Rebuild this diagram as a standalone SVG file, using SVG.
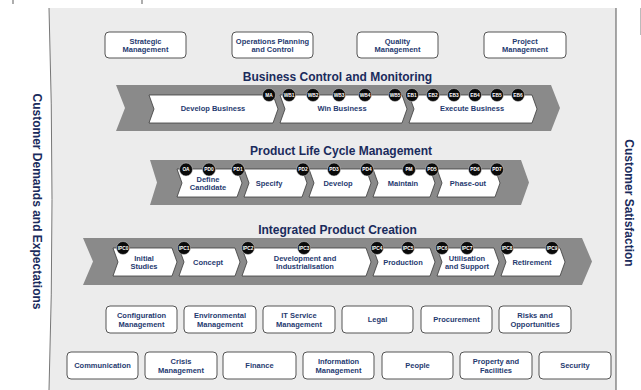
<svg xmlns="http://www.w3.org/2000/svg" width="641" height="390" viewBox="0 0 641 390">
  <style>
    text { font-family: "Liberation Sans", Arial, sans-serif; font-weight: bold; }
    .box { fill: #ffffff; stroke: #555555; stroke-width: 1; }
    .lbl { font-size: 7.5px; fill: #1f3a70; text-anchor: middle; }
    .title { font-size: 12px; fill: #1a2b5c; text-anchor: middle; }
    .side { font-size: 12px; fill: #1a2b5c; text-anchor: middle; }
    .band { fill: #8a8a8a; }
    .chev { fill: #ffffff; stroke: #3a3a3a; stroke-width: 0.8; }
    .gate circle { fill: #0a0a0a; stroke: #d0d0d0; stroke-width: 0.5; }
    .gate text { font-size: 4.8px; fill: #ffffff; text-anchor: middle; }
  </style>

  <!-- background panel -->
  <path d="M49,8 L616,8 L616,390 L49,390 Q55,200 49,8 Z" fill="#ececec"/>
  <path d="M49,8 Q55,200 49,390" fill="none" stroke="#777777" stroke-width="1"/>
  <line x1="616" y1="8" x2="616" y2="390" stroke="#555555" stroke-width="1"/>
  <line x1="13" y1="0" x2="13" y2="4" stroke="#777777" stroke-width="1.2"/>
  <line x1="142" y1="0" x2="142" y2="4" stroke="#777777" stroke-width="1.2"/>
  <line x1="640.5" y1="8" x2="640.5" y2="35" stroke="#bbbbbb" stroke-width="1"/>

  <!-- side labels -->
  <text class="side" transform="translate(33,201.5) rotate(90)">Customer Demands and Expectations</text>
  <text class="side" transform="translate(625,203) rotate(90)">Customer Satisfaction</text>

  <!-- top support processes -->
  <g id="strategic-management"><rect class="box" x="105" y="32" width="81" height="26" rx="4"/><text class="lbl" x="145.5" y="43.5">Strategic</text><text class="lbl" x="145.5" y="52">Management</text></g>
  <g id="operations-planning"><rect class="box" x="232" y="32" width="81" height="26" rx="4"/><text class="lbl" x="272.5" y="43.5">Operations Planning</text><text class="lbl" x="272.5" y="52">and Control</text></g>
  <g id="quality-management"><rect class="box" x="357" y="32" width="81" height="26" rx="4"/><text class="lbl" x="397.5" y="43.5">Quality</text><text class="lbl" x="397.5" y="52">Management</text></g>
  <g id="project-management"><rect class="box" x="484" y="32" width="82" height="26" rx="4"/><text class="lbl" x="525" y="43.5">Project</text><text class="lbl" x="525" y="52">Management</text></g>

  <!-- Business Control and Monitoring -->
  <g id="business-control">
    <text class="title" x="337.5" y="81">Business Control and Monitoring</text>
    <path class="band" d="M116,85 L551,85 L560,108 L551,131 L116,131 L125,108 Z"/>
    <g id="develop-business"><path class="chev" d="M149,95 L273,95 L278,109 L273,123 L149,123 L154,109 Z"/><text class="lbl" x="213" y="111">Develop Business</text></g>
    <g id="win-business"><path class="chev" d="M280,95 L402,95 L407,109 L402,123 L280,123 L285,109 Z"/><text class="lbl" x="342" y="111">Win Business</text></g>
    <g id="execute-business"><path class="chev" d="M409,95 L532,95 L537,109 L532,123 L409,123 L414,109 Z"/><text class="lbl" x="472" y="111">Execute Business</text></g>
    <g class="gate">
      <circle cx="269" cy="95" r="6.5"/><text x="269" y="96.7">MA</text>
      <circle cx="289" cy="95" r="6.5"/><text x="289" y="96.7">WB1</text>
      <circle cx="313" cy="95" r="6.5"/><text x="313" y="96.7">WB2</text>
      <circle cx="339" cy="95" r="6.5"/><text x="339" y="96.7">WB3</text>
      <circle cx="365" cy="95" r="6.5"/><text x="365" y="96.7">WB4</text>
      <circle cx="395" cy="95" r="6.5"/><text x="395" y="96.7">WB5</text>
      <circle cx="412" cy="95" r="6.5"/><text x="412" y="96.7">EB1</text>
      <circle cx="433" cy="95" r="6.5"/><text x="433" y="96.7">EB2</text>
      <circle cx="454" cy="95" r="6.5"/><text x="454" y="96.7">EB3</text>
      <circle cx="475" cy="95" r="6.5"/><text x="475" y="96.7">EB4</text>
      <circle cx="497" cy="95" r="6.5"/><text x="497" y="96.7">EB5</text>
      <circle cx="518" cy="95" r="6.5"/><text x="518" y="96.7">EB6</text>
    </g>
  </g>

  <!-- Product Life Cycle Management -->
  <g id="product-life-cycle">
    <text class="title" x="341" y="155">Product Life Cycle Management</text>
    <path class="band" d="M150,160 L521,160 L529,182.5 L521,205 L150,205 L157,182.5 Z"/>
    <g id="define-candidate"><path class="chev" d="M177,169 L237,169 L242,183 L237,197 L177,197 L182,183 Z"/><text class="lbl" x="208" y="181.5">Define</text><text class="lbl" x="208" y="190">Candidate</text></g>
    <g id="specify"><path class="chev" d="M244,169 L302,169 L307,183 L302,197 L244,197 L249,183 Z"/><text class="lbl" x="269" y="185.5">Specify</text></g>
    <g id="develop"><path class="chev" d="M309,169 L366,169 L371,183 L366,197 L309,197 L314,183 Z"/><text class="lbl" x="338" y="185.5">Develop</text></g>
    <g id="maintain"><path class="chev" d="M373,169 L430,169 L435,183 L430,197 L373,197 L378,183 Z"/><text class="lbl" x="403" y="185.5">Maintain</text></g>
    <g id="phase-out"><path class="chev" d="M437,169 L495,169 L500,183 L495,197 L437,197 L442,183 Z"/><text class="lbl" x="468" y="185.5">Phase-out</text></g>
    <g class="gate">
      <circle cx="186" cy="169.5" r="6.5"/><text x="186" y="171.2">OA</text>
      <circle cx="209" cy="169.5" r="6.5"/><text x="209" y="171.2">PD0</text>
      <circle cx="238" cy="169.5" r="6.5"/><text x="238" y="171.2">PD1</text>
      <circle cx="303" cy="169.5" r="6.5"/><text x="303" y="171.2">PD2</text>
      <circle cx="334" cy="169.5" r="6.5"/><text x="334" y="171.2">PD3</text>
      <circle cx="367" cy="169.5" r="6.5"/><text x="367" y="171.2">PD4</text>
      <circle cx="409" cy="169.5" r="6.5"/><text x="409" y="171.2">PM</text>
      <circle cx="432" cy="169.5" r="6.5"/><text x="432" y="171.2">PD5</text>
      <circle cx="475" cy="169.5" r="6.5"/><text x="475" y="171.2">PD6</text>
      <circle cx="497" cy="169.5" r="6.5"/><text x="497" y="171.2">PD7</text>
    </g>
  </g>

  <!-- Integrated Product Creation -->
  <g id="integrated-product-creation">
    <text class="title" x="337.5" y="234">Integrated Product Creation</text>
    <path class="band" d="M83,238 L582,238 L592,261.5 L582,285 L83,285 L93,261.5 Z"/>
    <g id="initial-studies"><path class="chev" d="M113,248 L172,248 L177,262 L172,276 L113,276 L118,262 Z"/><text class="lbl" x="144" y="260.5">Initial</text><text class="lbl" x="144" y="269">Studies</text></g>
    <g id="concept"><path class="chev" d="M179,248 L235,248 L240,262 L235,276 L179,276 L184,262 Z"/><text class="lbl" x="208" y="265">Concept</text></g>
    <g id="development-industrialisation"><path class="chev" d="M242,248 L366,248 L371,262 L366,276 L242,276 L247,262 Z"/><text class="lbl" x="305" y="260.5">Development and</text><text class="lbl" x="305" y="269">Industrialisation</text></g>
    <g id="production"><path class="chev" d="M373,248 L430,248 L435,262 L430,276 L373,276 L378,262 Z"/><text class="lbl" x="403" y="265">Production</text></g>
    <g id="utilisation-support"><path class="chev" d="M437,248 L494,248 L499,262 L494,276 L437,276 L442,262 Z"/><text class="lbl" x="467" y="260.5">Utilisation</text><text class="lbl" x="467" y="269">and Support</text></g>
    <g id="retirement"><path class="chev" d="M501,248 L560,248 L565,262 L560,276 L501,276 L506,262 Z"/><text class="lbl" x="532" y="265">Retirement</text></g>
    <g class="gate">
      <circle cx="123" cy="248" r="6.5"/><text x="123" y="249.7">IPC0</text>
      <circle cx="184" cy="248" r="6.5"/><text x="184" y="249.7">IPC1</text>
      <circle cx="248" cy="248" r="6.5"/><text x="248" y="249.7">IPC2</text>
      <circle cx="304" cy="248" r="6.5"/><text x="304" y="249.7">IPC3</text>
      <circle cx="377" cy="248" r="6.5"/><text x="377" y="249.7">IPC4</text>
      <circle cx="408" cy="248" r="6.5"/><text x="408" y="249.7">IPC5</text>
      <circle cx="442" cy="248" r="6.5"/><text x="442" y="249.7">IPC6</text>
      <circle cx="467" cy="248" r="6.5"/><text x="467" y="249.7">IPC7</text>
      <circle cx="507" cy="248" r="6.5"/><text x="507" y="249.7">IPC8</text>
      <circle cx="552" cy="248" r="6.5"/><text x="552" y="249.7">IPC9</text>
    </g>
  </g>

  <!-- supporting processes, first row -->
  <g id="configuration-management"><rect class="box" x="106" y="306" width="71" height="27" rx="4"/><text class="lbl" x="141.5" y="318">Configuration</text><text class="lbl" x="141.5" y="326.5">Management</text></g>
  <g id="environmental-management"><rect class="box" x="184" y="306" width="72" height="27" rx="4"/><text class="lbl" x="220" y="318">Environmental</text><text class="lbl" x="220" y="326.5">Management</text></g>
  <g id="it-service-management"><rect class="box" x="263" y="306" width="72" height="27" rx="4"/><text class="lbl" x="299" y="318">IT Service</text><text class="lbl" x="299" y="326.5">Management</text></g>
  <g id="legal"><rect class="box" x="342" y="306" width="71" height="27" rx="4"/><text class="lbl" x="377.5" y="322.2">Legal</text></g>
  <g id="procurement"><rect class="box" x="421" y="306" width="71" height="27" rx="4"/><text class="lbl" x="456.5" y="322.2">Procurement</text></g>
  <g id="risks-opportunities"><rect class="box" x="499" y="306" width="72" height="27" rx="4"/><text class="lbl" x="535" y="318">Risks and</text><text class="lbl" x="535" y="326.5">Opportunities</text></g>

  <!-- supporting processes, second row -->
  <g id="communication"><rect class="box" x="67" y="352" width="71" height="27" rx="4"/><text class="lbl" x="102.5" y="368.2">Communication</text></g>
  <g id="crisis-management"><rect class="box" x="145" y="352" width="72" height="27" rx="4"/><text class="lbl" x="181" y="364">Crisis</text><text class="lbl" x="181" y="372.5">Management</text></g>
  <g id="finance"><rect class="box" x="223" y="352" width="73" height="27" rx="4"/><text class="lbl" x="259.5" y="368.2">Finance</text></g>
  <g id="information-management"><rect class="box" x="303" y="352" width="71" height="27" rx="4"/><text class="lbl" x="338.5" y="364">Information</text><text class="lbl" x="338.5" y="372.5">Management</text></g>
  <g id="people"><rect class="box" x="382" y="352" width="71" height="27" rx="4"/><text class="lbl" x="417.5" y="368.2">People</text></g>
  <g id="property-facilities"><rect class="box" x="460" y="352" width="72" height="27" rx="4"/><text class="lbl" x="496" y="364">Property and</text><text class="lbl" x="496" y="372.5">Facilities</text></g>
  <g id="security"><rect class="box" x="539" y="352" width="72" height="27" rx="4"/><text class="lbl" x="575" y="368.2">Security</text></g>
</svg>
